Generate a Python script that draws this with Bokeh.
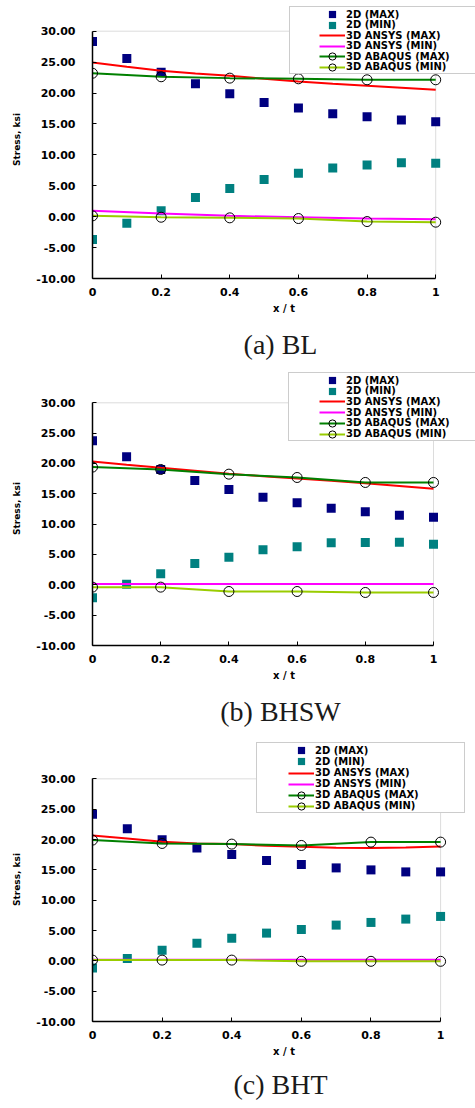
from bokeh.plotting import figure
from bokeh.models import (Legend, LegendItem, FixedTicker, NumeralTickFormatter, Title,
                          Range1d, BoxAnnotation)
from bokeh.layouts import column
from bokeh.embed import file_html
from bokeh.resources import INLINE

# ---------------- data ----------------
x_2d = [0, 0.1, 0.2, 0.3, 0.4, 0.5, 0.6, 0.7, 0.8, 0.9, 1.0]
x_ansys_max = [0, 0.1, 0.2, 0.3, 0.4, 0.5, 0.6, 0.7, 0.8, 0.9, 1.0]
x_ansys_min = [0, 0.2, 0.4, 0.6, 0.8, 1.0]
x_abaqus = [0, 0.2, 0.4, 0.6, 0.8, 1.0]

series_names = ["2D (MAX)", "2D (MIN)", "3D ANSYS (MAX)", "3D ANSYS (MIN)",
                "3D ABAQUS (MAX)", "3D ABAQUS (MIN)"]
y_ticks = [-10, -5, 0, 5, 10, 15, 20, 25, 30]
x_ticks = [0, 0.2, 0.4, 0.6, 0.8, 1.0]
captions = ["(a)  BL", "(b)  BHSW", "(c)  BHT"]

# (a) BL
bl_2d_max = [28.33, 25.59, 23.38, 21.50, 19.88, 18.48, 17.57, 16.65, 16.17, 15.63, 15.36]
bl_2d_min = [-3.69, -1.05, 0.94, 3.09, 4.54, 6.00, 7.02, 7.88, 8.36, 8.74, 8.63]
bl_ansys_max = [24.94, 24.24, 23.60, 23.16, 22.79, 22.30, 21.87, 21.50, 21.17, 20.85, 20.53]
bl_ansys_min = [0.94, 0.51, 0.13, -0.09, -0.30, -0.41]
bl_abaqus_max = [23.2, 22.63, 22.41, 22.30, 22.14, 22.14]
bl_abaqus_min = [0.13, -0.09, -0.19, -0.30, -0.79, -0.89]

# (b) BHSW
bhsw_2d_max = [23.74, 21.10, 19.01, 17.20, 15.71, 14.45, 13.52, 12.64, 12.03, 11.48, 11.15]
bhsw_2d_min = [-2.14, 0.11, 1.81, 3.52, 4.56, 5.77, 6.26, 6.92, 6.98, 7.03, 6.70]
bhsw_ansys_max = [20.33, 19.80, 19.29, 18.80, 18.30, 17.90, 17.53, 17.15, 16.76, 16.30, 15.82]
bhsw_ansys_min = [0.12, 0.12, 0.12, 0.12, 0.12, 0.12]
bhsw_abaqus_max = [19.40, 19.01, 18.24, 17.69, 16.87, 16.87]
bhsw_abaqus_min = [-0.38, -0.38, -1.10, -1.10, -1.26, -1.26]

# (c) BHT
bht_2d_max = [24.15, 21.78, 19.96, 18.58, 17.53, 16.54, 15.88, 15.32, 14.99, 14.66, 14.66]
bht_2d_min = [-1.17, 0.37, 1.75, 2.91, 3.74, 4.57, 5.17, 5.89, 6.33, 6.88, 7.32]
bht_ansys_max = [20.68, 20.18, 19.63, 19.35, 19.24, 18.97, 18.80, 18.63, 18.58, 18.70, 18.86]
bht_ansys_min = [0.18, 0.18, 0.18, 0.18, 0.18, 0.18]
bht_abaqus_max = [19.90, 19.35, 19.24, 19.02, 19.57, 19.57]
bht_abaqus_min = [0.12, 0.12, 0.12, -0.08, -0.08, -0.08]

datasets = [
    (bl_2d_max, bl_2d_min, bl_ansys_max, bl_ansys_min, bl_abaqus_max, bl_abaqus_min),
    (bhsw_2d_max, bhsw_2d_min, bhsw_ansys_max, bhsw_ansys_min, bhsw_abaqus_max, bhsw_abaqus_min),
    (bht_2d_max, bht_2d_min, bht_ansys_max, bht_ansys_min, bht_abaqus_max, bht_abaqus_min),
]

# ---------------- layout / style ----------------
COL_NAVY = "#000080"
COL_TEAL = "#008080"
COL_RED = "#ff0000"
COL_MAG = "#ff00ff"
COL_GREEN = "#008000"
COL_LIME = "#99cc00"

W = 475
# H: canvas height; L: axis x px; R: px of x=1; T: px of y=30; B: px of y=-10 (canvas coords)
# box: legend frame (left, top, bottom, right); rows: first row centre, row step, glyph left
layouts = [
    dict(H=371, L=90, R=435, T=30.7, B=278, box=(287, 8, 74, 490),
         row0=14.3, step=10.5, gx=317, cap=21),
    dict(H=366, L=92, R=433, T=31.3, B=274, box=(288, 3, 69.7, 490),
         row0=9.0, step=10.7, gx=319, cap=20),
    dict(H=371, L=91, R=440, T=41.3, B=283.7, box=(255, 7, 76, 462),
         row0=13.0, step=11.1, gx=287, cap=15),
]

TICK_FONT = "DejaVu Sans"


def make_panel(caption, d, lay):
    H, L, R, T, B = lay["H"], lay["L"], lay["R"], lay["T"], lay["B"]
    y_lo, y_hi = y_ticks[0], y_ticks[-1]
    x_lo, x_hi = x_ticks[0], x_ticks[-1]
    ppu_y = (B - T) / (y_hi - y_lo)
    ppu_x = (R - L) / (x_hi - x_lo)
    y_top = y_hi + T / ppu_y
    x_right = x_hi + (W - R) / ppu_x

    p = figure(width=W, height=H, x_range=Range1d(x_lo, x_right), y_range=Range1d(y_lo, y_top),
               output_backend="svg", toolbar_location=None, title=None,
               min_border_left=int(round(L)), min_border_right=0,
               min_border_top=0, min_border_bottom=int(round(H - B)))
    p.grid.visible = False
    p.outline_line_color = None
    p.background_fill_color = "white"
    p.border_fill_color = "white"

    # grey plot-area border (top and right visible)
    p.add_layout(BoxAnnotation(left=x_lo, right=x_hi, bottom=y_lo, top=y_hi,
                               fill_alpha=0, line_color="#8c8c8c", line_width=1,
                               level="underlay"))

    for ax in (p.xaxis[0], p.yaxis[0]):
        ax.axis_line_color = "black"
        ax.axis_line_width = 1.5
        ax.major_tick_in = 4
        ax.major_tick_out = 0
        ax.major_tick_line_color = "black"
        ax.minor_tick_line_color = None
        ax.major_label_text_font = TICK_FONT
        ax.major_label_text_font_style = "bold"
        ax.major_label_text_font_size = "11px"
        ax.major_label_text_color = "black"
        ax.axis_label_text_font = TICK_FONT
        ax.axis_label_text_font_style = "bold"
        ax.axis_label_text_color = "black"

    p.yaxis.ticker = FixedTicker(ticks=y_ticks)
    p.yaxis.bounds = (y_lo, y_hi)
    p.yaxis.formatter = NumeralTickFormatter(format="0.00")
    p.yaxis.major_label_standoff = 17
    p.yaxis.axis_label = "Stress, ksi"
    p.yaxis.axis_label_text_font_size = "9px"
    p.yaxis.axis_label_standoff = 11

    p.xaxis.ticker = FixedTicker(ticks=x_ticks)
    p.xaxis.bounds = (x_lo, x_hi)
    p.xaxis.major_label_standoff = 9
    p.xaxis.axis_label = "x / t"
    p.xaxis.axis_label_text_font_size = "10px"
    p.xaxis.axis_label_standoff = 4

    m2d_max, m2d_min, an_max, an_min, ab_max, ab_min = d

    r1 = p.scatter(x_2d, m2d_max, marker="square", size=9, fill_color=COL_NAVY, line_color=None)
    r2 = p.scatter(x_2d, m2d_min, marker="square", size=9, fill_color=COL_TEAL, line_color=None)
    r3 = p.line(x_ansys_max, an_max, line_color=COL_RED, line_width=2)
    r4 = p.line(x_ansys_min, an_min, line_color=COL_MAG, line_width=2)
    r5l = p.line(x_abaqus, ab_max, line_color=COL_GREEN, line_width=2)
    r6l = p.line(x_abaqus, ab_min, line_color=COL_LIME, line_width=2)
    r5c = p.scatter(x_abaqus, ab_max, marker="circle", size=10, fill_alpha=0,
                    line_color="black", line_width=1)
    r6c = p.scatter(x_abaqus, ab_min, marker="circle", size=10, fill_alpha=0,
                    line_color="black", line_width=1)

    # legend frame (white box with grey border)
    bl_, bt_, bb_, br_ = lay["box"]
    bw, bh = br_ - bl_, bb_ - bt_
    dummy = p.scatter([], [], marker="square", size=1, alpha=0)
    box = Legend(items=[LegendItem(label=" ", renderers=[dummy])],
                 location=(bl_ - L, B - bb_),
                 padding=0, margin=0, spacing=0, glyph_width=1, glyph_height=int(round(bh)),
                 label_width=int(round(bw - 1)), label_height=int(round(bh)), label_standoff=0,
                 label_text_font_size="1px",
                 border_line_color="#9a9a9a", border_line_width=1.5,
                 background_fill_color="white", background_fill_alpha=1.0)
    p.add_layout(box, "center")

    renderer_sets = [[r1], [r2], [r3], [r4], [r5l, r5c], [r6l, r6c]]
    GH = 18
    for k, (name, rs) in enumerate(zip(series_names, renderer_sets)):
        cy = lay["row0"] + k * lay["step"]
        leg = Legend(items=[LegendItem(label=name, renderers=rs)],
                     location=(lay["gx"] - L, B - cy - GH / 2),
                     padding=0, margin=0, spacing=0,
                     glyph_width=26, glyph_height=GH, label_standoff=1, label_height=10,
                     label_text_font=TICK_FONT, label_text_font_style="bold",
                     label_text_font_size="10px", label_text_color="black",
                     border_line_color=None, background_fill_alpha=0)
        p.add_layout(leg, "center")

    p.add_layout(Title(text=caption, align="center", text_font="Liberation Serif",
                       text_font_size="28px", text_font_style="normal",
                       text_color="#1a1a1a", standoff=lay["cap"]), "below")
    return p


plots = [make_panel(captions[i], datasets[i], layouts[i]) for i in range(3)]
page = column(*plots, spacing=0)

with open("out.html", "w") as f:
    f.write(file_html(page, INLINE))
